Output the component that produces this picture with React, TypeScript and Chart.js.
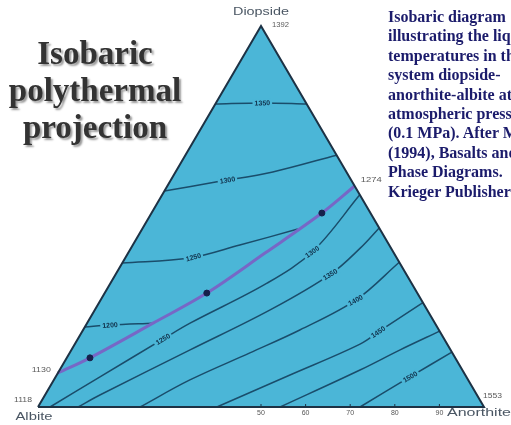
import React, { useEffect, useRef } from "react";
import { Chart, registerables } from "chart.js";
Chart.register(...registerables);

// Ternary compositions given as [An %, Di %]; Ab = 100 - An - Di
const vertexAb = [0, 0];
const vertexAn = [100, 0];
const vertexDi = [0, 100];
const vertexNames = ["Albite", "Anorthite", "Diopside"];
const vertexTemps = ["1118", "1553", "1392"];
const eutecticTemp = "1274";
const diAbCotecticTemp = "1130";

const cotectic = [[42, 58], [38.2, 50.9], [30.7, 40.4], [22.9, 29.9], [14.8, 22], [5.2, 12.9], [0, 8.9]];
const cotecticArrows = [[38.2, 50.9], [22.9, 29.9], [5.2, 12.9]];

// Diopside field isotherms
const di1350 = [[0, 79.5], [10.5, 79.8], [20.5, 79.5]];
const di1300 = [[0, 56.7], [10.6, 59.1], [21.8, 61.7], [33.9, 66.1]];
const di1250 = [[0, 37.8], [14.5, 39.1], [24, 42.5], [34.9, 46.7]];
const di1200 = [[0, 21], [5.4, 21.5], [14.8, 22]];

// Anorthite field isotherms
const an1300 = [[44.3, 55.7], [41.2, 40.9], [35.1, 32.5], [23.1, 22.0], [19.1, 17.8], [9.95, 7.9], [2.7, 0]];
const an1350 = [[53, 47], [51.4, 41.7], [48.2, 34.9], [39.3, 25.5], [26.6, 15.0], [12.3, 3.15], [9.0, 0]];
const an1400 = [[62, 38], [57.25, 28.1], [48.6, 20.2], [40.4, 14.2], [30.5, 7.1], [22.9, 0]];
const an1450 = [[72.6, 27.4], [66.8, 20.2], [63.95, 16.5], [52.3, 8.4], [40.1, 0]];
const an1475 = [[80.1, 19.9], [73.7, 15.0], [67.35, 9.7], [54.3, 0]];
const an1500 = [[85.6, 14.4], [79.45, 7.9], [72.2, 0]];

const isotherms = [di1350, di1300, di1250, di1200, an1300, an1350, an1400, an1450, an1475, an1500];

const contourLabels = [
  { text: "1350", line: di1350, at: [10.5, 79.6] },
  { text: "1300", line: di1300, at: [12.8, 59.4] },
  { text: "1250", line: di1250, at: [15.2, 39.3] },
  { text: "1200", line: di1200, at: [5.4, 21.5] },
  { text: "1250", line: an1300, at: [19.1, 17.8] },
  { text: "1300", line: an1300, at: [41.5, 40.4] },
  { text: "1350", line: an1350, at: [48.5, 34.4] },
  { text: "1400", line: an1400, at: [57.4, 27.8] },
  { text: "1450", line: an1450, at: [67.6, 18.6] },
  { text: "1500", line: an1500, at: [79.5, 7.9] },
];

const bottomTicks = [50, 60, 70, 80, 90];

const SQ = Math.sqrt(3) / 2;
const toXY = (c: number[]) => ({ x: c[0] + c[1] / 2, y: c[1] * SQ });

const FILL = "#4bb6d7";
const LINE = "#1a4d6b";
const EDGE = "#1d3245";

function stretchText(ctx: CanvasRenderingContext2D, text: string, x: number, y: number, font: string, color: string, align: "left" | "right" | "center", width?: number) {
  ctx.save();
  ctx.font = font;
  ctx.fillStyle = color;
  ctx.textBaseline = "middle";
  const w = ctx.measureText(text).width;
  const s = width ? width / w : 1;
  const tw = w * s;
  let left = x;
  if (align === "center") left = x - tw / 2;
  if (align === "right") left = x - tw;
  ctx.translate(left, y);
  ctx.scale(s, 1);
  ctx.textAlign = "left";
  ctx.fillText(text, 0, 0);
  ctx.restore();
}

const fillPlugin = {
  id: "ternaryFill",
  beforeDatasetsDraw(chart: any) {
    const { ctx } = chart;
    const xs = chart.scales.x;
    const ys = chart.scales.y;
    const pts = [vertexAb, vertexDi, vertexAn].map(toXY);
    ctx.save();
    ctx.beginPath();
    pts.forEach((p, i) => {
      const px = xs.getPixelForValue(p.x);
      const py = ys.getPixelForValue(p.y);
      if (i === 0) ctx.moveTo(px, py);
      else ctx.lineTo(px, py);
    });
    ctx.closePath();
    ctx.fillStyle = FILL;
    ctx.fill();
    ctx.restore();
  },
};

const labelPlugin = {
  id: "ternaryLabels",
  afterDatasetsDraw(chart: any) {
    const { ctx } = chart;
    const xs = chart.scales.x;
    const ys = chart.scales.y;
    const P = (c: number[]) => {
      const d = toXY(c);
      return [xs.getPixelForValue(d.x), ys.getPixelForValue(d.y)];
    };
    ctx.save();
    for (const lab of contourLabels) {
      const pts = lab.line.map(P);
      const [lx, ly] = P(lab.at);
      let best = { d: Infinity, px: lx, py: ly, ang: 0 };
      for (let i = 0; i < pts.length - 1; i++) {
        const [ax, ay] = pts[i];
        const [bx, by] = pts[i + 1];
        const dx = bx - ax, dy = by - ay;
        let t = ((lx - ax) * dx + (ly - ay) * dy) / (dx * dx + dy * dy);
        t = Math.max(0, Math.min(1, t));
        const qx = ax + t * dx, qy = ay + t * dy;
        const d = Math.hypot(lx - qx, ly - qy);
        if (d < best.d) best = { d, px: qx, py: qy, ang: Math.atan2(dy, dx) };
      }
      let ang = best.ang;
      if (ang > Math.PI / 2) ang -= Math.PI;
      if (ang < -Math.PI / 2) ang += Math.PI;
      ctx.save();
      ctx.translate(best.px, best.py);
      ctx.rotate(ang);
      ctx.font = 'bold 7px "Liberation Sans"';
      const w = ctx.measureText(lab.text).width;
      ctx.fillStyle = FILL;
      ctx.fillRect(-w / 2 - 2, -4, w + 4, 8);
      ctx.fillStyle = "#10304a";
      ctx.textAlign = "center";
      ctx.textBaseline = "middle";
      ctx.fillText(lab.text, 0, 0.5);
      ctx.restore();
    }
    const [abx, aby] = P(vertexAb);
    const [anx, any] = P(vertexAn);
    const [dix, diy] = P(vertexDi);
    ctx.strokeStyle = EDGE;
    ctx.lineWidth = 1;
    for (const t of bottomTicks) {
      const [tx, ty] = P([t, 0]);
      ctx.beginPath();
      ctx.moveTo(tx, ty);
      ctx.lineTo(tx, ty - 3);
      ctx.stroke();
      stretchText(ctx, String(t), tx, ty + 6, '7px "Liberation Sans"', "#555", "center");
    }
    const nameFont = '10px "Liberation Sans"';
    const nameColor = "#4a5663";
    stretchText(ctx, vertexNames[0], abx - 4, aby + 10.5, nameFont, nameColor, "center", 37);
    stretchText(ctx, vertexNames[1], anx - 37, any + 6.5, nameFont, nameColor, "left", 64);
    stretchText(ctx, vertexNames[2], dix, diy - 13.5, nameFont, nameColor, "center", 56);
    const numFont = '7px "Liberation Sans"';
    const numColor = "#5a5a5a";
    stretchText(ctx, vertexTemps[0], abx - 6, aby - 7, numFont, numColor, "right", 18);
    stretchText(ctx, vertexTemps[1], anx - 1, any - 10.5, numFont, numColor, "left", 19);
    stretchText(ctx, vertexTemps[2], dix + 11, diy - 0.5, numFont, numColor, "left", 17);
    const [ex, ey] = P(cotectic[0]);
    stretchText(ctx, eutecticTemp, ex + 6, ey - 5.5, numFont, numColor, "left", 21);
    const [cx, cy] = P(cotectic[cotectic.length - 1]);
    stretchText(ctx, diAbCotecticTemp, cx - 7, cy - 3, numFont, numColor, "right", 19);
    ctx.restore();
  },
};

export default function App() {
  const ref = useRef<HTMLCanvasElement>(null);
  useEffect(() => {
    if (!ref.current) return;
    const tri = [vertexAb, vertexDi, vertexAn, vertexAb].map(toXY);
    const datasets: any[] = [
      ...isotherms.map((l) => ({
        data: l.map(toXY),
        showLine: true,
        fill: false,
        borderColor: LINE,
        borderWidth: 1.5,
        pointRadius: 0,
        tension: 0.35,
        order: 10,
        clip: false,
      })),
      {
        data: cotectic.map(toXY),
        showLine: true,
        fill: false,
        borderColor: "#7767c6",
        borderWidth: 3,
        pointRadius: 0,
        tension: 0.35,
        order: 5,
        clip: false,
      },
      {
        data: cotecticArrows.map(toXY),
        showLine: false,
        pointRadius: 3,
        pointBackgroundColor: "#16204a",
        pointBorderColor: "#16204a",
        order: 2,
        clip: false,
      },
      {
        data: tri,
        showLine: true,
        fill: false,
        borderColor: EDGE,
        borderWidth: 2,
        pointRadius: 0,
        tension: 0,
        order: 1,
        clip: false,
      },
    ];
    const chart = new Chart(ref.current, {
      type: "scatter",
      data: { datasets },
      options: {
        responsive: false,
        animation: false,
        devicePixelRatio: 1,
        layout: { padding: { left: 38, right: 27, top: 26, bottom: 18 } },
        scales: {
          x: { type: "linear", min: 0, max: 100, display: false },
          y: { type: "linear", min: 0, max: 100 * SQ, display: false },
        },
        plugins: { legend: { display: false }, tooltip: { enabled: false } },
        events: [],
      },
      plugins: [fillPlugin, labelPlugin],
    });
    return () => chart.destroy();
  }, []);

  const captionLines = [
    "Isobaric diagram",
    "illustrating the liquidus",
    "temperatures in the",
    "system diopside-",
    "anorthite-albite at",
    "atmospheric pressure",
    "(0.1 MPa). After Morse",
    "(1994), Basalts and",
    "Phase Diagrams.",
    "Krieger Publishers.",
  ];

  return (
    <div style={{ position: "fixed", left: 0, top: 0, width: 511, height: 425, overflow: "hidden", background: "#fff" }}>
      <canvas ref={ref} width={511} height={425} style={{ position: "absolute", left: 0, top: 0 }} />
      <div
        style={{
          position: "absolute",
          left: 0,
          top: 35,
          width: 190,
          textAlign: "center",
          font: 'bold 33px "Liberation Serif"',
          lineHeight: "37px",
          color: "#333",
          textShadow: "2px 2px 2px #9a9a9a",
        }}
      >
        Isobaric
        <br />
        polythermal
        <br />
        projection
      </div>
      <div
        style={{
          position: "absolute",
          left: 388,
          top: 7,
          font: 'bold 16px "Liberation Serif"',
          lineHeight: "19.4px",
          color: "#1b1b6b",
          whiteSpace: "nowrap",
        }}
      >
        {captionLines.map((l, i) => (
          <div key={i}>{l}</div>
        ))}
      </div>
    </div>
  );
}
